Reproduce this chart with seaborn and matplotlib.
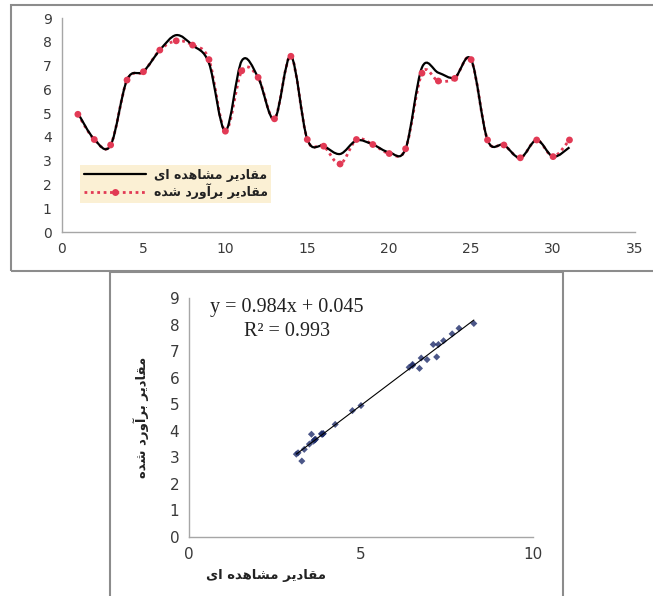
import numpy as np
import pandas as pd
import matplotlib
matplotlib.use("Agg")
import matplotlib.pyplot as plt
from matplotlib.path import Path
from matplotlib.patches import PathPatch, Rectangle
from matplotlib.lines import Line2D
import seaborn as sns

sns.set_style("white")
plt.rcParams["font.family"] = ["DejaVu Sans"]

# داده ها (خوانده شده از نمودار)
steps = list(range(1, 32))
observed = [5.0, 3.9, 3.65, 6.4, 6.75, 7.65, 8.28, 7.85, 7.1, 4.25,
            7.2, 6.5, 4.75, 7.4, 3.9, 3.62, 3.28, 3.85, 3.68, 3.35,
            3.5, 6.92, 6.7, 6.5, 7.25, 3.87, 3.66, 3.12, 3.87, 3.17, 3.56]
estimated = [4.95, 3.89, 3.66, 6.39, 6.74, 7.65, 8.04, 7.86, 7.25, 4.24,
             6.78, 6.5, 4.76, 7.39, 3.89, 3.61, 2.86, 3.89, 3.68, 3.3,
             3.5, 6.68, 6.35, 6.46, 7.25, 3.87, 3.66, 3.12, 3.87, 3.17, 3.87]

LBL_OBS = "مقادیر مشاهده ای"
LBL_EST = "مقادیر برآورد شده"
EQ_TEXT = "y = 0.984x + 0.045"
R2_TEXT = "R² = 0.993"

RED = "#e23a55"
AXIS_GREY = "#a6a6a6"
TXT = "#3a3a3a"

# شکل حروف فارسی (matplotlib حروف را به هم وصل نمی کند)
FORMS = {
    "ا": ("\uFE8D", "\uFE8E"),
    "آ": ("\uFE81", "\uFE82"),
    "ب": ("\uFE8F", "\uFE90", "\uFE91", "\uFE92"),
    "د": ("\uFEA9", "\uFEAA"),
    "ر": ("\uFEAD", "\uFEAE"),
    "ش": ("\uFEB5", "\uFEB6", "\uFEB7", "\uFEB8"),
    "ق": ("\uFED5", "\uFED6", "\uFED7", "\uFED8"),
    "م": ("\uFEE1", "\uFEE2", "\uFEE3", "\uFEE4"),
    "ه": ("\uFEE9", "\uFEEA", "\uFEEB", "\uFEEC"),
    "و": ("\uFEED", "\uFEEE"),
    "ی": ("\uFBFC", "\uFBFD", "\uFBFE", "\uFBFF"),
}


def fa(text):
    out = []
    for i, ch in enumerate(text):
        f = FORMS.get(ch)
        if f is None:
            out.append(ch)
            continue
        prev = text[i - 1] if i > 0 else ""
        nxt = text[i + 1] if i + 1 < len(text) else ""
        join_prev = prev in FORMS and len(FORMS[prev]) == 4
        join_next = len(f) == 4 and nxt in FORMS
        out.append(f[(1 if join_prev else 0) + (2 if join_next else 0)])
    return "".join(reversed(out))


def smooth_path(xs, ys):
    # منحنی هموار مثل خط smoothed اکسل (Catmull-Rom -> Bezier)
    p = np.column_stack([xs, ys]).astype(float)
    p = np.vstack([p[0], p, p[-1]])
    verts = [p[1]]
    codes = [Path.MOVETO]
    for i in range(1, len(p) - 2):
        c1 = p[i] + (p[i + 1] - p[i - 1]) / 6
        c2 = p[i + 1] - (p[i + 2] - p[i]) / 6
        verts += [c1, c2, p[i + 1]]
        codes += [Path.CURVE4] * 3
    return Path(verts, codes)


def style_axes(ax, fs):
    sns.despine(ax=ax)
    for s in ("left", "bottom"):
        ax.spines[s].set_color(AXIS_GREY)
        ax.spines[s].set_linewidth(1.0)
    ax.tick_params(axis="both", direction="out", length=3, width=0.8,
                   color=AXIS_GREY, labelsize=fs, labelcolor=TXT, pad=4)
    ax.grid(False)


fig = plt.figure(figsize=(6.53, 5.96), dpi=100)

# قاب ها
fig.add_artist(Rectangle((11 / 653, 1 - 271 / 596), 0.99, 266 / 596,
                         transform=fig.transFigure, fill=False,
                         edgecolor="#8c8c8c", linewidth=1.5))
fig.add_artist(Rectangle((110 / 653, -0.02), 453 / 653, 0.02 + 1 - 272 / 596,
                         transform=fig.transFigure, fill=False,
                         edgecolor="#8c8c8c", linewidth=1.5))

# ── نمودار بالا: مقادیر مشاهده ای و برآورد شده ──
ax1 = fig.add_axes([61.5 / 653, 1 - 232 / 596, 573.5 / 653, 214 / 596])
ax1.add_patch(PathPatch(smooth_path(steps, estimated), fill=False,
                        edgecolor=RED, linewidth=2.0,
                        linestyle=(0, (1, 1.3)), zorder=2))
ax1.add_patch(PathPatch(smooth_path(steps, observed), fill=False,
                        edgecolor="black", linewidth=1.6, zorder=3))
sns.scatterplot(x=steps, y=estimated, ax=ax1, color=RED, s=24,
                edgecolor="none", zorder=4, legend=False)
ax1.set_xlim(0, 35)
ax1.set_ylim(0, 9)
ax1.set_xticks(range(0, 36, 5))
ax1.set_yticks(range(0, 10))
style_axes(ax1, 10)

handles = [Line2D([], [], color="black", lw=1.6),
           Line2D([], [], color=RED, lw=2.0, ls=(0, (1, 1.3)),
                  marker="o", markersize=5, markeredgecolor="none")]
leg = ax1.legend(handles, [fa(LBL_OBS), fa(LBL_EST)], loc="lower left",
                 bbox_to_anchor=(0.032, 0.135), borderaxespad=0,
                 frameon=True, fancybox=False, facecolor="#fbf0d4",
                 edgecolor="none", framealpha=1, fontsize=9,
                 handlelength=5.0, labelspacing=0.15, borderpad=0.3,
                 handletextpad=0.6)
for t in leg.get_texts():
    t.set_fontweight("bold")
    t.set_color("#222222")

# ── نمودار پایین: پراکنش ──
ax2 = fig.add_axes([189 / 653, 1 - 537 / 596, 344 / 653, 239 / 596])
sns.regplot(x=observed, y=estimated, ax=ax2, ci=None, marker="D",
            scatter_kws=dict(s=13, color="#1f2d6b", edgecolor="none"),
            line_kws=dict(color="black", lw=0.8))
ax2.set_xlim(0, 10)
ax2.set_ylim(0, 9)
ax2.set_xticks([0, 5, 10])
ax2.set_yticks(range(0, 10))
style_axes(ax2, 11)

ax2.text(0.6, 8.65, EQ_TEXT, family="Liberation Serif", fontsize=14.5,
         color="#222222", ha="left", va="center")
ax2.text(2.85, 7.74, R2_TEXT, family="Liberation Serif", fontsize=14.5,
         color="#222222", ha="center", va="center")

ax2.set_ylabel(fa(LBL_EST), fontsize=9.5, fontweight="bold", color="#222222")
ax2.yaxis.set_label_coords(-0.115, 0.5)
ax2.set_xlabel(fa(LBL_OBS), fontsize=9.5, fontweight="bold", color="#222222")
ax2.xaxis.set_label_coords(0.225, -0.135)

fig.savefig("out.png", dpi=100)
